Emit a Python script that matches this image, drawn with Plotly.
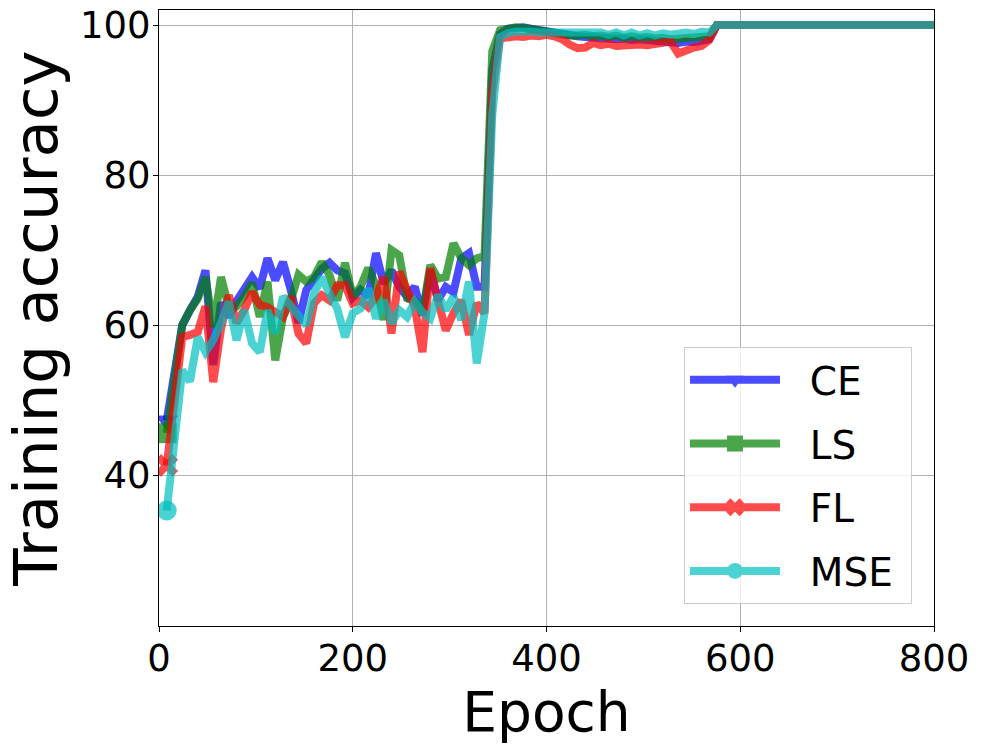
import plotly.graph_objects as go

# evaluation every 8 epochs, 8 .. 800
epochs = list(range(8, 801, 8))

ce = [47.3, 54.0, 60.0, 62.0, 63.8, 67.3, 54.7, 63.0, 61.1, 63.2, 64.8, 66.4, 64.9, 68.9,
      66.0, 68.4, 64.7, 60.3, 64.7, 66.0, 67.5, 68.3, 67.3, 66.9, 63.7, 64.7, 63.8, 69.6,
      65.5, 67.3, 65.1, 63.8, 65.1, 61.3, 67.3, 63.3, 65.1, 64.4, 68.9, 69.6, 65.1, 65.1,
      94.0, 98.8, 99.5, 99.6, 99.7, 99.5, 99.3, 99.1, 99.0, 98.9, 98.7, 98.5, 98.4, 98.3,
      98.2, 98.3, 98.1, 98.2, 98.0, 98.1, 98.0, 97.9, 98.0, 97.8, 97.6, 97.8, 97.7, 97.9,
      98.1,
      100, 100, 100, 100, 100, 100, 100, 100, 100, 100, 100, 100, 100, 100, 100, 100, 100,
      100, 100, 100, 100, 100, 100, 100, 100, 100, 100, 100, 100]
ls = [45.6, 53.0, 60.0, 62.0, 63.5, 66.4, 59.7, 66.4, 62.4, 62.5, 63.8, 65.6, 61.1, 65.8,
      55.3, 61.1, 63.3, 66.7, 65.8, 66.4, 68.4, 66.7, 63.3, 68.3, 63.8, 65.1, 67.6, 65.3,
      60.7, 70.0, 69.3, 63.6, 63.3, 61.6, 68.0, 66.2, 66.4, 70.9, 68.9, 68.0, 68.9, 69.2,
      96.5, 99.3, 99.6, 99.7, 99.6, 99.4, 99.2, 99.0, 98.9, 98.8, 98.6, 98.6, 98.7, 98.5,
      98.6, 98.4, 98.6, 98.3, 98.5, 98.3, 98.4, 98.2, 98.3, 98.1, 98.2, 98.1, 98.2, 98.4,
      98.5,
      100, 100, 100, 100, 100, 100, 100, 100, 100, 100, 100, 100, 100, 100, 100, 100, 100,
      100, 100, 100, 100, 100, 100, 100, 100, 100, 100, 100, 100]
fl = [41.3, 50.0, 58.4, 58.7, 59.1, 62.5, 52.4, 59.5, 64.0, 60.3, 62.0, 64.4, 62.7, 62.4,
      61.8, 61.1, 63.8, 58.9, 57.6, 62.9, 64.0, 63.3, 65.3, 65.3, 62.9, 63.3, 62.4, 63.8,
      66.4, 58.9, 67.1, 64.7, 62.4, 56.4, 67.6, 63.3, 59.3, 61.6, 63.3, 58.7, 62.9, 61.6,
      91.0, 98.2, 98.4, 98.5, 98.4, 98.6, 98.5, 98.7, 98.5, 98.1, 97.4, 96.9, 97.0, 97.6,
      97.3, 97.5, 97.2, 97.3, 97.3, 97.4, 97.3, 97.4, 97.5, 97.8, 96.2, 96.7, 97.0, 97.2,
      98.0,
      100, 100, 100, 100, 100, 100, 100, 100, 100, 100, 100, 100, 100, 100, 100, 100, 100,
      100, 100, 100, 100, 100, 100, 100, 100, 100, 100, 100, 100]
mse = [35.3, 45.0, 54.0, 52.5, 58.4, 56.4, 58.0, 60.3, 63.1, 58.0, 62.0, 57.6, 56.4, 62.0,
       58.9, 63.8, 62.5, 61.1, 60.0, 64.2, 66.4, 64.2, 62.2, 58.4, 61.6, 62.2, 64.9, 60.9,
       63.3, 60.3, 62.0, 61.1, 63.1, 61.7, 60.9, 64.0, 62.0, 63.8, 60.7, 65.8, 54.9, 61.6,
       88.0, 98.4, 98.9, 99.1, 99.2, 99.1, 99.0, 99.0, 98.9, 98.8, 98.9, 98.8, 99.0, 98.8,
       99.0, 98.7, 99.0, 98.6, 99.0, 98.6, 98.9, 98.6, 98.9, 98.7, 98.9, 99.0, 98.8, 99.1,
       99.0,
       100, 100, 100, 100, 100, 100, 100, 100, 100, 100, 100, 100, 100, 100, 100, 100, 100,
       100, 100, 100, 100, 100, 100, 100, 100, 100, 100, 100, 100]

series = [("CE", ce, "#0000ff", "triangle-down"),
          ("LS", ls, "#008000", "square"),
          ("FL", fl, "#ff0000", "x"),
          ("MSE", mse, "#00bfbf", "circle")]

FONT = "DejaVu Sans"
NB = "\u00a0"
fig = go.Figure()
for name, vals, col, sym in series:
    fig.add_scatter(x=epochs, y=vals, mode="lines", name=name, legendgroup=name,
                    showlegend=False, opacity=0.7, line=dict(color=col, width=8))
    # marker only on the first point (also gives the legend entry)
    fig.add_scatter(x=epochs[:1], y=vals[:1], mode="lines+markers",
                    name=NB * 2 + name + NB, legendgroup=name, opacity=0.7,
                    line=dict(color=col, width=8),
                    marker=dict(symbol=sym, size=20, color=col, line=dict(width=0)))

ax = dict(showgrid=True, gridcolor="#b0b0b0", gridwidth=1, zeroline=False,
          showline=True, linecolor="black", linewidth=1, mirror=True,
          ticks="outside", ticklen=5, tickcolor="black", automargin=False,
          ticklabelstandoff=-5, ticklabeloverflow="allow",
          tickfont=dict(family=FONT, size=37, color="black"))
fig.update_layout(
    width=983, height=745, template="plotly_white",
    plot_bgcolor="white", paper_bgcolor="white",
    margin=dict(l=159, r=49, t=10, b=119),
    xaxis=dict(ax, range=[0, 800], tickvals=[0, 200, 400, 600, 800],
               title=dict(text="Epoch", font=dict(family=FONT, size=55, color="black"),
                          standoff=2)),
    yaxis=dict(ax, range=[19.9, 102], tickvals=[40, 60, 80, 100],
               title=dict(text="Training accuracy",
                          font=dict(family=FONT, size=61, color="black"), standoff=5)),
    legend=dict(x=0.9716, xanchor="right", y=0.0357, yanchor="bottom",
                font=dict(family=FONT, size=39, color="black"),
                bgcolor="rgba(255,255,255,0.8)", bordercolor="#cccccc", borderwidth=1,
                itemwidth=90, tracegroupgap=10),
)
# drop the browser's default 8px body margin so the figure sits at the page corner
fig.write_html("out.html", config={"displayModeBar": False},
               post_script="document.body.style.margin='0';")
